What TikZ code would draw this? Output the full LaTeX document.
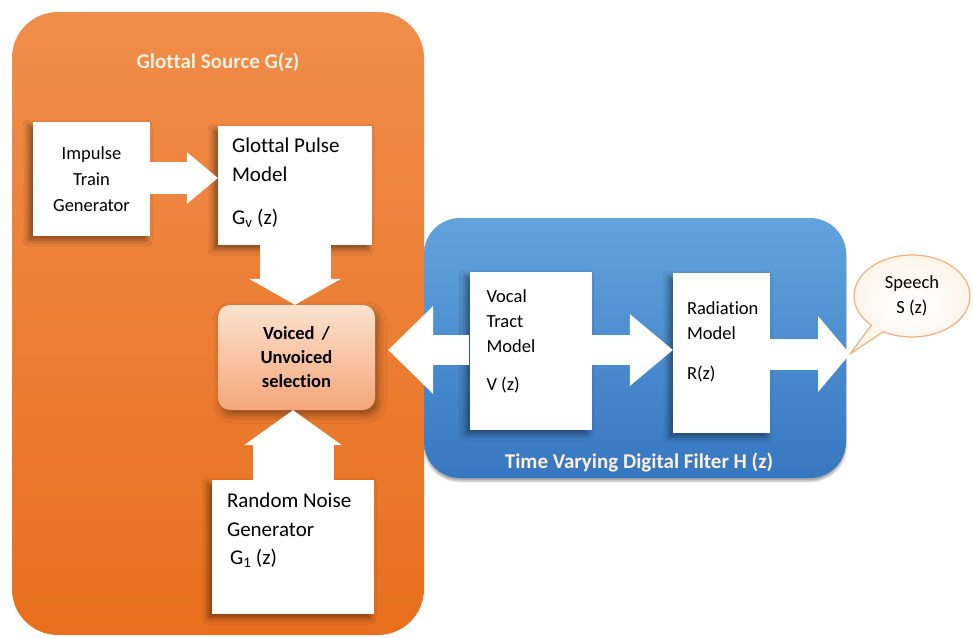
\documentclass[tikz,border=0pt]{standalone}
\usepackage{fontspec}
\setmainfont[Ligatures=NoCommon]{Carlito}
\usetikzlibrary{arrows.meta,shapes.callouts,shadows.blur}

\definecolor{glotlight}{HTML}{F08D4A}
\definecolor{glotdark}{HTML}{E86F1E}
\definecolor{filtlight}{HTML}{62A3DD}
\definecolor{filtdark}{HTML}{3677C1}
\definecolor{selpale}{HTML}{FCE2CF}
\definecolor{selpeach}{HTML}{F4A67A}
\definecolor{speechline}{HTML}{F2B07F}

\begin{document}
\begin{tikzpicture}[x=1pt,y=-1pt,
        font=\fontsize{18.5}{26}\selectfont,
        block/.style 2 args={fill=white, minimum width=#1, minimum height=#2, inner sep=0pt,
            blur shadow={shadow xshift=-4pt, shadow yshift=-4pt, shadow opacity=45, shadow blur radius=6pt}},
        boxtext/.style={anchor=north west, align=left, inner sep=0pt},
        bigtext/.style={font=\fontsize{21}{29}\selectfont},
        title/.style={font=\fontsize{21}{26}\selectfont\bfseries, text=white!88!orange},
        fatarrow/.style n args={3}{draw=white, line width=#1, -{Triangle[width=#2, length=#3, line width=0pt]}}]
        \useasboundingbox (0,0) rectangle (973,637);

        % filter and source
        \node[rounded corners=36pt, top color=filtlight, bottom color=filtdark, minimum width=422, minimum height=260,
            blur shadow={shadow xshift=0pt, shadow yshift=-3pt, shadow opacity=35}] (tvf) at (635,348) {};
        \node[rounded corners=46pt, top color=glotlight, bottom color=glotdark, minimum width=412, minimum height=623] (src) at (218,323.5) {};
        \node[title] (srctitle) at (218,62) {Glottal Source G(z)};
        \node[title] (tvftitle) at (639,462) {Time Varying Digital Filter H (z)};

        % blocks
        \node[block={117}{114}, align=center] (imp) at (91.5,179) {Impulse\\Train\\Generator};
        \node[block={154}{119}] (glp) at (295,185.5) {};
        \node[boxtext, bigtext] (glptxt) at ([shift={(14,12)}]glp.north west)
            {Glottal Pulse\\Model\\[14pt]G\textsubscript{v} (z)};
        \node[rounded corners=12pt, top color=selpale, bottom color=selpeach, minimum width=157, minimum height=105,
            align=center, font=\fontsize{18.5}{24}\selectfont\bfseries,
            blur shadow={shadow xshift=3pt, shadow yshift=-5pt, shadow opacity=40, shadow blur radius=8pt}] (vuv) at (296.5,357.5)
            {Voiced \,/\\Unvoiced\\selection};
        \node[block={162}{134}] (rng) at (293,547) {};
        \node[boxtext, bigtext] (rngtxt) at ([shift={(15,13)}]rng.north west)
            {Random Noise\\Generator\\[-1pt]\hspace{3pt}G\textsubscript{1} (z)};
        \node[block={122}{158}] (vtm) at (530.5,351) {};
        \node[boxtext, font=\fontsize{18.5}{25}\selectfont] (vtmtxt) at ([shift={(17,18)}]vtm.north west)
            {Vocal\\Tract\\Model\\[13pt]V (z)};
        \node[block={97}{160}] (rad) at (721.5,353) {};
        \node[boxtext, font=\fontsize{18.5}{25}\selectfont] (radtxt) at ([shift={(14,29)}]rad.north west)
            {Radiation\\Model\\[15pt]R(z)};
        \coordinate (spk) at (850,354);
        \node[ellipse callout, callout absolute pointer={(spk)}, draw=speechline, line width=1.2pt,
            inner color=white, outer color=orange!8, minimum width=116, minimum height=82, inner sep=0pt,
            align=center, font=\fontsize{18.5}{25}\selectfont] (speech) at (912,296) {Speech\\S (z)};

        % block arrows
        \draw[fatarrow={32}{52}{31}] (imp.east |- 0,178) -- (glp.west |- 0,178);
        \draw[fatarrow={71}{92}{26}] (glp.south) -- (glp.south |- vuv.north);
        \draw[fatarrow={81}{98}{35}] (rng.north) -- (rng.north |- vuv.south);
        \draw[fatarrow={30}{88}{45}, shorten >=13pt] (vtm.west |- 0,350) -- (vuv.east |- 0,350);
        \draw[fatarrow={30}{72}{43}] (vtm.east |- 0,350) -- (rad.west |- 0,350);
        \draw[fatarrow={31}{76}{32}] (rad.east |- spk) -- (spk);
    \end{tikzpicture}
\end{document}
